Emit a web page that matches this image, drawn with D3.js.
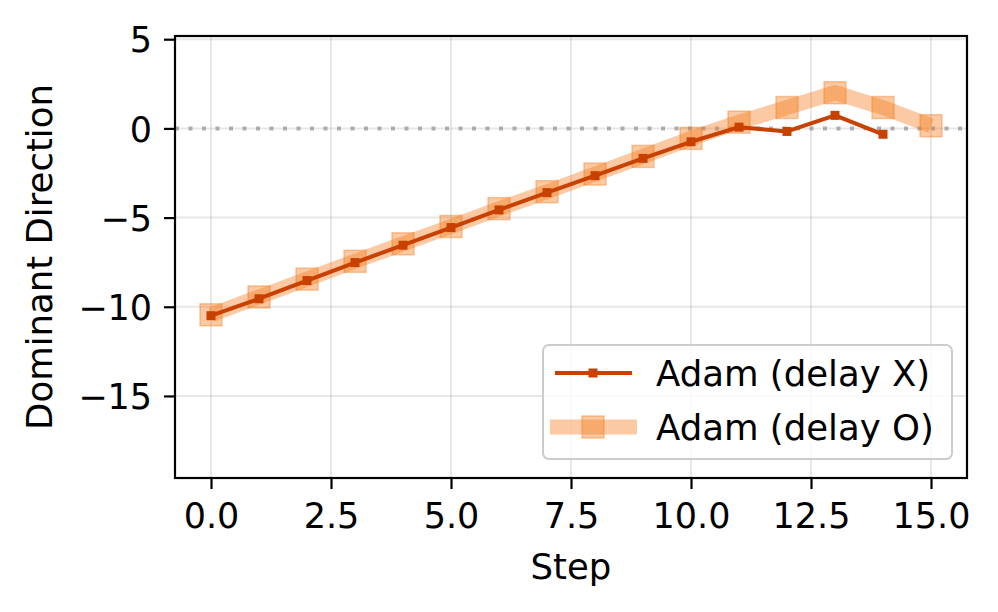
<!DOCTYPE html>
<html>
<head>
<meta charset="utf-8">
<script src="https://cdn.jsdelivr.net/npm/d3@7"></script>
<style>
  body { margin: 0; background: #fff; }
  text { font-family: "DejaVu Sans", sans-serif; fill: #000; }
</style>
</head>
<body>
<div id="chart-area"></div>
<script>
// data
const stepsX = d3.range(0, 15)
const delayX = [-10.5, -9.55, -8.53, -7.52, -6.55, -5.56, -4.57, -3.6, -2.65, -1.68, -0.75, 0.07, -0.17, 0.73, -0.33]
const stepsO = d3.range(0, 16)
const delayO = [-10.45, -9.45, -8.45, -7.45, -6.47, -5.5, -4.5, -3.55, -2.56, -1.57, -0.56, 0.35, 1.17, 2.0, 1.17, 0.15]
const xTicks = [0, 2.5, 5, 7.5, 10, 12.5, 15]
const yTicks = [5, 0, -5, -10, -15]
const legendLabels = ["Adam (delay X)", "Adam (delay O)"]

const W = 998, H = 612
const m = { left: 175, right: 967, top: 36, bottom: 478 }

let svg = d3.select("#chart-area").append("svg")
  .attr("width", W)
  .attr("height", H)

let x = d3.scaleLinear().domain([-0.75, 15.75]).range([m.left, m.right])
let y = d3.scaleLinear().domain([-19.6, 5.18]).range([m.bottom, m.top])

// grid
svg.append("g").selectAll("line").data(xTicks).enter().append("line")
  .attr("x1", d => x(d)).attr("x2", d => x(d))
  .attr("y1", m.top).attr("y2", m.bottom)
  .attr("stroke", "#b0b0b0").attr("stroke-opacity", 0.3).attr("stroke-width", 2)
svg.append("g").selectAll("line").data(yTicks).enter().append("line")
  .attr("x1", m.left).attr("x2", m.right)
  .attr("y1", d => y(d)).attr("y2", d => y(d))
  .attr("stroke", "#b0b0b0").attr("stroke-opacity", 0.3).attr("stroke-width", 2)

// zero line
svg.append("line")
  .attr("x1", m.left).attr("x2", m.right)
  .attr("y1", y(0)).attr("y2", y(0))
  .attr("stroke", "#808080").attr("stroke-opacity", 0.6)
  .attr("stroke-width", 4).attr("stroke-dasharray", "4,9.5")

// delay O: thick translucent line with big squares
let colorO = "#f57a1c"
let line = d3.line().x(d => x(d[0])).y(d => y(d[1]))
let dataO = stepsO.map((s, i) => [s, delayO[i]])
svg.append("path").datum(dataO)
  .attr("d", line)
  .attr("fill", "none").attr("stroke", colorO)
  .attr("stroke-opacity", 0.4).attr("stroke-width", 15)
svg.append("g").selectAll("rect").data(dataO).enter().append("rect")
  .attr("x", d => x(d[0]) - 11).attr("y", d => y(d[1]) - 11)
  .attr("width", 22).attr("height", 22)
  .attr("fill", colorO).attr("fill-opacity", 0.4)
  .attr("stroke", colorO).attr("stroke-opacity", 0.4).attr("stroke-width", 1.5)

// delay X
let colorX = "#c94100"
let dataX = stepsX.map((s, i) => [s, delayX[i]])
svg.append("path").datum(dataX)
  .attr("d", line)
  .attr("fill", "none").attr("stroke", colorX)
  .attr("stroke-width", 4).attr("stroke-linejoin", "round")
svg.append("g").selectAll("rect").data(dataX).enter().append("rect")
  .attr("x", d => x(d[0]) - 4.5).attr("y", d => y(d[1]) - 4.5)
  .attr("width", 9).attr("height", 9)
  .attr("fill", colorX)

// frame
svg.append("rect")
  .attr("x", m.left).attr("y", m.top)
  .attr("width", m.right - m.left).attr("height", m.bottom - m.top)
  .attr("fill", "none").attr("stroke", "#000").attr("stroke-width", 2.2)

// axes
let fmtY = d => d3.format("d")(d).replace("-", "\u2212")
let xAxis = svg.append("g")
  .attr("transform", `translate(0,${m.bottom})`)
  .call(d3.axisBottom(x).tickValues(xTicks).tickFormat(d3.format(".1f")).tickSize(11).tickPadding(14))
let yAxis = svg.append("g")
  .attr("transform", `translate(${m.left},0)`)
  .call(d3.axisLeft(y).tickValues(yTicks).tickFormat(fmtY).tickSize(11).tickPadding(12))
;[xAxis, yAxis].forEach(a => {
  a.select(".domain").remove()
  a.selectAll(".tick line").attr("stroke", "#000").attr("stroke-width", 2.2)
  a.selectAll(".tick text").attr("font-size", 35).attr("font-family", "DejaVu Sans").attr("fill", "#000")
})
yAxis.selectAll(".tick text").attr("dy", "0.36em")

svg.append("text")
  .attr("x", (m.left + m.right) / 2).attr("y", 579)
  .attr("text-anchor", "middle").attr("font-size", 35.5)
  .text("Step")
svg.append("text")
  .attr("transform", `translate(52,${(m.top + m.bottom) / 2}) rotate(-90)`)
  .attr("text-anchor", "middle").attr("font-size", 35.5)
  .text("Dominant Direction")

// legend
let lg = svg.append("g")
lg.append("rect")
  .attr("x", 543).attr("y", 345).attr("width", 409).attr("height", 114)
  .attr("rx", 6).attr("fill", "#fff").attr("fill-opacity", 0.8)
  .attr("stroke", "#cccccc").attr("stroke-width", 2)
let rows = [373, 427]
lg.append("line").attr("x1", 555).attr("x2", 632).attr("y1", rows[0]).attr("y2", rows[0])
  .attr("stroke", colorX).attr("stroke-width", 4)
lg.append("rect").attr("x", 593 - 4.5).attr("y", rows[0] - 4.5).attr("width", 9).attr("height", 9)
  .attr("fill", colorX)
lg.append("line").attr("x1", 550).attr("x2", 637).attr("y1", rows[1]).attr("y2", rows[1])
  .attr("stroke", colorO).attr("stroke-opacity", 0.4).attr("stroke-width", 15)
lg.append("rect").attr("x", 593 - 11).attr("y", rows[1] - 11).attr("width", 22).attr("height", 22)
  .attr("fill", colorO).attr("fill-opacity", 0.4)
  .attr("stroke", colorO).attr("stroke-opacity", 0.4).attr("stroke-width", 1.5)
lg.selectAll("text.lab").data(legendLabels).enter().append("text")
  .attr("class", "lab")
  .attr("x", 656).attr("y", (d, i) => rows[i] + 12.5)
  .attr("font-size", 35.5)
  .text(d => d)
</script>
</body>
</html>
